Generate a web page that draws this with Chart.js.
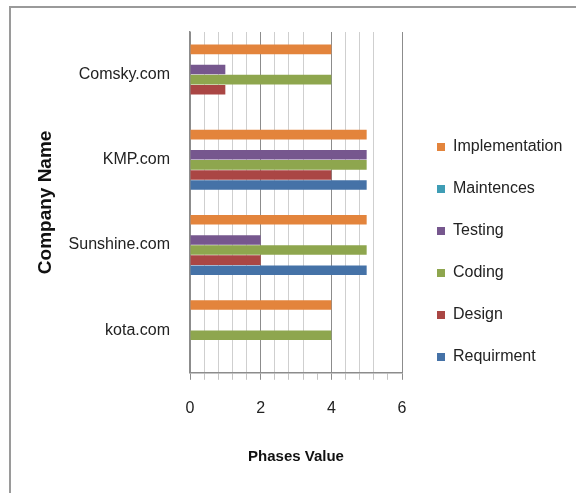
<!DOCTYPE html>
<html>
<head>
<meta charset="utf-8">
<script src="https://cdn.jsdelivr.net/npm/chart.js@4/dist/chart.umd.min.js"></script>
<style>
  html, body { margin: 0; padding: 0; background: #fff; }
  #wrap { position: relative; width: 576px; height: 493px; overflow: hidden; }
  #frame { position: absolute; left: 9px; top: 6px; width: 600px; height: 600px; border: 2px solid #9a9a9a; }
  #chart { position: absolute; left: 0; top: 0; }
</style>
</head>
<body>
<div id="wrap">
  <div id="frame"></div>
  <canvas id="chart" width="576" height="493"></canvas>
</div>
<script>
// companies, top to bottom as in the picture
const companies = ['Comsky.com', 'KMP.com', 'Sunshine.com', 'kota.com'];

// one value per company for each phase
const implementation = [4, 5, 5, 4];
const maintences = [0, 0, 0, 0];
const testing = [1, 5, 2, 0];
const coding = [4, 5, 5, 4];
const design = [1, 4, 2, 0];
const requirment = [0, 5, 5, 0];

const xTicks = [0, 2, 4, 6];

Chart.defaults.font.family = "'Liberation Sans', Arial, sans-serif";
Chart.defaults.color = '#222';

const canvas = document.getElementById('chart');

// minor grid every 0.4, majors at the labelled ticks
function gridIndex(ctx) {
  return Math.round(ctx.tick.value / 0.4);
}

// legend gets a fixed width so the long label runs off the edge like in the picture
const legendWidth = {
  id: 'legendWidth',
  beforeLayout(chart) {
    const lg = chart.legend;
    if (lg && !lg._fixedWidth) {
      const fit = lg.fit;
      lg.fit = function () {
        fit.call(this);
        this.width = 165;
      };
      lg._fixedWidth = true;
    }
  }
};

new Chart(canvas, {
  type: 'bar',
  data: {
    labels: companies,
    datasets: [
      { label: 'Implementation', data: implementation, backgroundColor: '#E3843C' },
      { label: 'Maintences', data: maintences, backgroundColor: '#3F9DB5' },
      { label: 'Testing', data: testing, backgroundColor: '#76578E' },
      { label: 'Coding', data: coding, backgroundColor: '#8EA64E' },
      { label: 'Design', data: design, backgroundColor: '#AA4644' },
      { label: 'Requirment', data: requirment, backgroundColor: '#4572A7' }
    ]
  },
  options: {
    indexAxis: 'y',
    responsive: false,
    animation: false,
    devicePixelRatio: 1,
    layout: { padding: { top: 32, bottom: 23, left: 30, right: 0 } },
    datasets: {
      bar: { categoryPercentage: 0.71, barPercentage: 0.95, borderWidth: 0 }
    },
    scales: {
      x: {
        min: 0,
        max: 6,
        ticks: {
          stepSize: 0.4,
          autoSkip: false,
          maxRotation: 0,
          padding: 19,
          font: { size: 16 },
          callback: (v) => (xTicks.includes(Math.round(v * 1000) / 1000) ? v : '')
        },
        grid: {
          tickLength: 7,
          color: (ctx) => {
            const i = gridIndex(ctx);
            if (i % 5 === 0) return '#8c8c8c';
            if (i === 9 || i === 14) return 'rgba(0,0,0,0)';
            return '#cfcfcf';
          },
          tickColor: (ctx) => (gridIndex(ctx) % 5 === 0 ? '#8c8c8c' : '#c4c4c4')
        },
        border: { color: '#8c8c8c', width: 1.5 },
        title: {
          display: true,
          text: 'Phases Value',
          font: { size: 15, weight: 'bold' },
          color: '#111',
          padding: { top: 11, bottom: 4 }
        }
      },
      y: {
        grid: { display: false, drawTicks: false },
        border: { color: '#8c8c8c', width: 1.5 },
        ticks: { padding: 20, font: { size: 16 } },
        title: {
          display: true,
          text: 'Company Name',
          font: { size: 19, weight: 'bold' },
          color: '#111',
          padding: { top: 4, bottom: 4 }
        },
        afterFit: (scale) => { scale.width = 160; }
      },
      // empty spacer between the plot and the legend
      yr: {
        type: 'category',
        position: 'right',
        grid: { display: false },
        ticks: { display: false },
        border: { display: false },
        afterFit: (scale) => { scale.width = 9; }
      }
    },
    plugins: {
      tooltip: { enabled: false },
      legend: {
        position: 'right',
        align: 'start',
        title: { display: true, text: ' ', font: { size: 10 }, padding: { top: 69, bottom: 0 } },
        labels: {
          boxWidth: 8,
          boxHeight: 8,
          padding: 26,
          font: { size: 16 },
          color: '#222'
        }
      }
    }
  },
  plugins: [legendWidth]
});
</script>
</body>
</html>
